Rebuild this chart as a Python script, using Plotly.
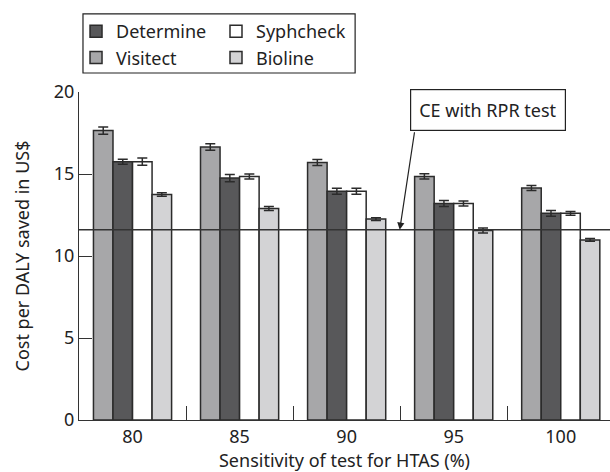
import plotly.graph_objects as go

categories = ["80", "85", "90", "95", "100"]
visitect = [17.65, 16.65, 15.7, 14.85, 14.15]
determine = [15.75, 14.75, 13.95, 13.2, 12.6]
syphcheck = [15.75, 14.85, 13.95, 13.2, 12.6]
bioline = [13.75, 12.9, 12.25, 11.55, 10.98]
err_visitect = [0.22, 0.2, 0.18, 0.16, 0.15]
err_determine = [0.15, 0.22, 0.18, 0.18, 0.18]
err_syphcheck = [0.22, 0.15, 0.18, 0.15, 0.12]
err_bioline = [0.1, 0.12, 0.08, 0.15, 0.08]
ce_rpr = 11.6

FONT = "Noto Sans"
FS = 18
EDGE = "#2b2b2b"

series = [
    ("Visitect", visitect, err_visitect, "#a7a7a9", "legend", 2),
    ("Determine", determine, err_determine, "#58585a", "legend", 1),
    ("Syphcheck", syphcheck, err_syphcheck, "#ffffff", "legend2", 1),
    ("Bioline", bioline, err_bioline, "#d3d3d5", "legend2", 2),
]

fig = go.Figure()
for name, vals, errs, col, leg, rank in series:
    fig.add_trace(go.Bar(
        x=categories, y=vals, name=name,
        marker=dict(color=col, line=dict(color=EDGE, width=1.5)),
        error_y=dict(type="data", array=errs, color=EDGE, thickness=1.5, width=5),
        legend=leg, legendrank=rank,
    ))

fig.add_hline(y=ce_rpr, line=dict(color="#333333", width=1.3), layer="above")

fig.add_annotation(
    x=0.604, xref="paper", y=ce_rpr, yref="y", text="",
    showarrow=True, ax=15, ay=-99, arrowhead=2, arrowsize=1.2,
    arrowwidth=1.2, arrowcolor="#222222",
)
fig.add_annotation(
    x=0.77, xref="paper", y=18.9, yref="y", text="CE with RPR test",
    xanchor="center", yanchor="middle",
    showarrow=False, bgcolor="white", bordercolor="#222222", borderwidth=1.2,
    borderpad=8, font=dict(family=FONT, size=FS, color="#222222"),
)

fig.add_shape(type="rect", xref="paper", yref="paper",
              x0=0.0075, x1=0.52, y0=1.058, y1=1.238,
              line=dict(color="#222222", width=1.2), fillcolor="rgba(0,0,0,0)")

legend_common = dict(
    orientation="v", bgcolor="rgba(0,0,0,0)", borderwidth=0,
    font=dict(family=FONT, size=FS, color="#222222"),
    xanchor="left", yanchor="top", itemwidth=30, traceorder="normal",
)
fig.update_layout(
    width=614, height=472,
    margin=dict(l=79, r=4, t=92, b=52, autoexpand=False),
    paper_bgcolor="white", plot_bgcolor="white",
    barmode="group", bargap=0.27, bargroupgap=0,
    font=dict(family=FONT, size=FS, color="#222222"),
    legend=dict(x=-0.0056, y=1.241, **legend_common),
    legend2=dict(x=0.258, y=1.241, **legend_common),
    xaxis=dict(
        type="category", range=[-0.5, 4.46], automargin=False,
        showline=True, linecolor="#333333", linewidth=1.3,
        ticks="inside", tickson="boundaries", ticklen=14, tickcolor="#333333",
        tickwidth=1.2, showgrid=False,
        title=dict(text="Sensitivity of test for HTAS (%)", standoff=4,
                   font=dict(family=FONT, size=FS)),
        tickfont=dict(family=FONT, size=FS),
    ),
    yaxis=dict(
        range=[0, 20], tickvals=[0, 5, 10, 15, 20], automargin=False,
        showline=True,
        linecolor="#333333", linewidth=1.3, ticks="inside", ticklen=13,
        tickcolor="#333333", tickwidth=1.2, showgrid=False, zeroline=False,
        title=dict(text="Cost per DALY saved in US$", standoff=19,
                   font=dict(family=FONT, size=FS)),
        tickfont=dict(family=FONT, size=FS),
    ),
)

fig.write_html(
    "out.html",
    config={"displayModeBar": False},
    post_script=("document.body.style.margin='0';"
                 "document.body.style.overflow='hidden';"
                 "document.documentElement.style.overflow='hidden';"),
)
